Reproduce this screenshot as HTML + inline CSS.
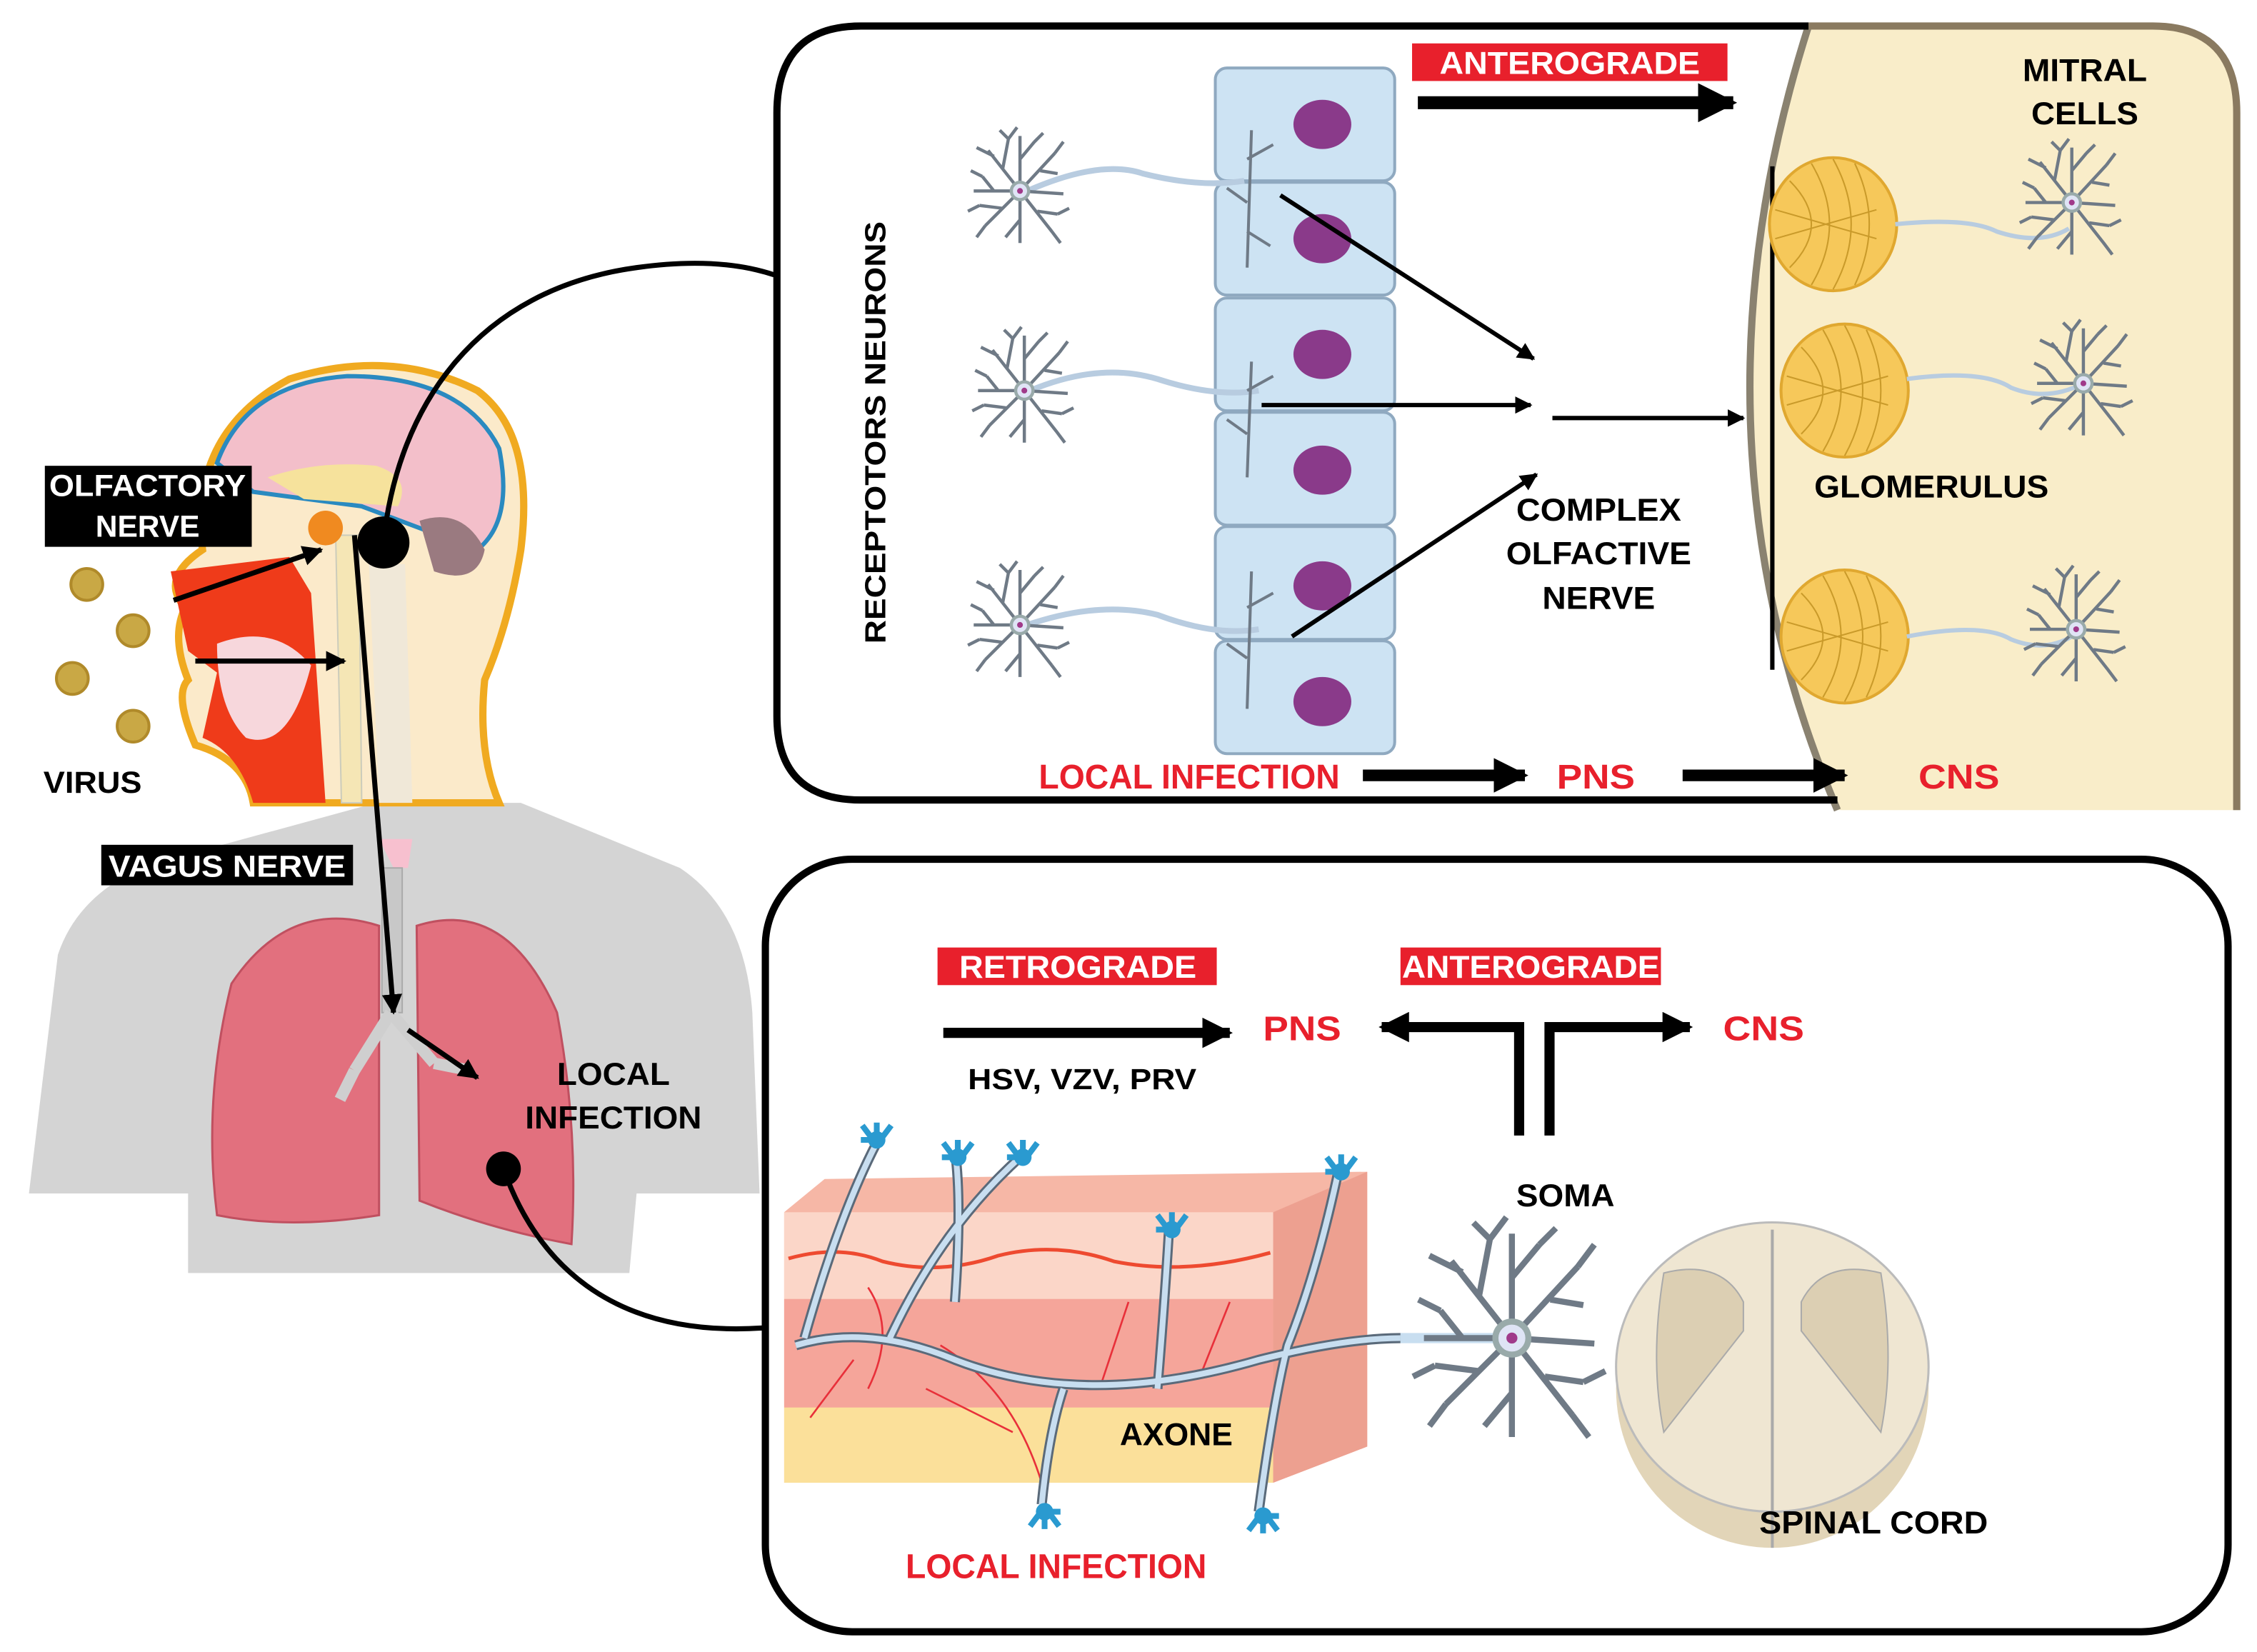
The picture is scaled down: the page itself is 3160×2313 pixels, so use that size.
<!DOCTYPE html>
<html><head><meta charset="utf-8"><style>
html,body{margin:0;padding:0;background:#fff;}
svg{display:block;}
text{font-family:"Liberation Sans Narrow","Liberation Sans",sans-serif;font-weight:bold;}
</style></head><body>
<svg width="3160" height="2313" viewBox="0 0 1560 1142" preserveAspectRatio="none" xmlns="http://www.w3.org/2000/svg">
<defs>
<marker id="ah" viewBox="0 0 10 10" refX="9" refY="5" markerWidth="4" markerHeight="4" orient="auto"><path d="M0,0L10,5L0,10z" fill="#000"/></marker>
<marker id="ah2" viewBox="0 0 10 10" refX="9" refY="5" markerWidth="3" markerHeight="3" orient="auto"><path d="M0,0L10,5L0,10z" fill="#000"/></marker>
<g id="neu" stroke="#6f7a86" stroke-width="2.2" fill="none">
<path d="M0,0L-22,-28M-12,-15L-8,-36M-18,-24L-30,-30M0,0L0,-38M0,-22L10,-34M0,0L24,-26M14,-14L26,-12M0,0L30,2M0,0L22,28M12,14L26,16M0,0L0,36M0,20L-10,32M0,0L-24,24M-12,12L-28,10M0,0L-32,0M-18,0L-26,-10M-8,-36L-14,-42M-8,-36L-2,-44M24,-26L30,-34M22,28L28,36M-24,24L-30,32M-26,-10L-34,-14M26,16L34,12M-28,10L-36,14M10,-34L16,-40"/>
<circle r="6" fill="#dfe4f5" stroke="#9aa"/><circle r="2" fill="#a03a8a" stroke="none"/>
</g>
<g id="glom"><ellipse rx="44" ry="46" fill="#f6c85a" stroke="#e0a830" stroke-width="2"/>
<path d="M-30,-30Q0,0 -30,30M-15,-42Q10,0 -15,42M0,-45Q25,0 0,45M15,-42Q35,0 15,42M-40,-10L30,10M-40,10L30,-10" stroke="#c99a2a" stroke-width="1" fill="none"/></g>
<g id="hand" fill="#2a9ad0"><circle r="6"/><path d="M-10,-10L-4,-2M0,-12L0,-2M10,-10L4,-2M-11,0L-3,0" stroke="#2a9ad0" stroke-width="4"/></g>
</defs>

<!-- body silhouette -->
<path d="M20,825 L40,660 Q60,600 150,585 L260,555 L360,555 L470,600 Q515,630 520,700 L525,825 L440,825 L435,880 L130,880 L130,825 Z" fill="#d4d4d4"/>
<!-- head -->
<path d="M140,380 Q130,300 200,262 Q270,240 330,270 Q370,300 360,380 Q352,430 335,470 Q330,520 345,555 L175,555 Q170,525 135,515 Q120,480 130,470 Q118,440 128,420 Q110,400 140,380Z" fill="#fbeaca" stroke="#f0aa20" stroke-width="5"/>
<path d="M150,320 Q170,265 240,260 Q320,260 345,310 Q355,360 330,380 L250,350 L175,340Z" fill="#f3bfca" stroke="#2a8ac0" stroke-width="3"/>
<path d="M185,330 Q220,318 260,322 Q285,330 275,350 L210,345Z" fill="#f6e29c"/>
<path d="M290,360 Q320,350 335,380 Q330,405 300,395Z" fill="#9a7a80"/>
<path d="M118,395 L200,385 L215,410 L225,555 L175,555 Q165,520 140,510 L150,465 L130,450Z" fill="#ef3b1a"/>
<path d="M150,445 Q190,430 215,460 Q200,520 170,510 Q150,490 150,445Z" fill="#f7d7dc"/>
<path d="M232,370 L248,370 L250,555 L236,555Z" fill="#f5e6b5" stroke="#ccb" stroke-width="1"/>
<path d="M255,390 L280,390 L285,555 L262,555Z" fill="#f0e8d8"/>
<circle cx="225" cy="365" r="12" fill="#f08a20"/>
<!-- viruses -->
<g fill="#c9a845" stroke="#b08a2a" stroke-width="2"><circle cx="60" cy="404" r="11"/><circle cx="92" cy="436" r="11"/><circle cx="50" cy="469" r="11"/><circle cx="92" cy="502" r="11"/></g>
<!-- trachea & lungs -->
<path d="M262,580 L285,580 L282,600 L272,600Z" fill="#f7c0cf"/>
<rect x="264" y="600" width="14" height="100" fill="#c8c8c8" stroke="#aaa"/>
<path d="M160,680 Q200,620 262,640 L262,840 Q200,850 150,840 Q140,760 160,680Z" fill="#e2707e" stroke="#c05060" stroke-width="1.5"/>
<path d="M288,640 Q350,620 385,700 Q400,780 395,860 Q340,850 290,830Z" fill="#e2707e" stroke="#c05060" stroke-width="1.5"/>
<path d="M270,700 L245,740 M270,700 L300,735 M245,740 L235,760 M300,735 L325,740" stroke="#cfcfcf" stroke-width="8" fill="none"/>

<!-- connectors -->
<path d="M265,375 C275,280 330,200 440,185 C490,178 520,185 535,190" stroke="#000" stroke-width="3.5" fill="none"/>
<path d="M348,808 C370,870 420,925 527,918" stroke="#000" stroke-width="3.5" fill="none"/>
<circle cx="265" cy="375" r="18" fill="#000"/>
<circle cx="348" cy="808" r="12" fill="#000"/>

<!-- arrows left -->
<g stroke="#000" stroke-width="3.5" fill="none" marker-end="url(#ah)">
<line x1="120" y1="415" x2="222" y2="380"/>
<line x1="135" y1="457" x2="238" y2="457"/>
<line x1="245" y1="370" x2="272" y2="700"/>
<line x1="282" y1="712" x2="330" y2="745"/>
</g>
<!-- labels left -->
<rect x="31" y="322" width="143" height="56" fill="#000"/>
<text x="102" y="343" font-size="21" fill="#fff" text-anchor="middle" font-family="Liberation Sans" textLength="136" lengthAdjust="spacingAndGlyphs">OLFACTORY</text>
<text x="102" y="371" font-size="21" fill="#fff" text-anchor="middle" font-family="Liberation Sans">NERVE</text>
<text x="30" y="548" font-size="21" fill="#000" textLength="68" lengthAdjust="spacingAndGlyphs">VIRUS</text>
<rect x="70" y="584" width="174" height="28" fill="#000"/>
<text x="157" y="606" font-size="21" fill="#fff" text-anchor="middle" textLength="164" lengthAdjust="spacingAndGlyphs">VAGUS NERVE</text>
<text x="424" y="750" font-size="22" fill="#000" text-anchor="middle" textLength="78" lengthAdjust="spacingAndGlyphs">LOCAL</text>
<text x="424" y="780" font-size="22" fill="#000" text-anchor="middle" textLength="122" lengthAdjust="spacingAndGlyphs">INFECTION</text>

<!-- TOP BOX -->
<path d="M1250,18 L1488,18 Q1548,18 1548,78 L1548,560 L1270,560 Q1160,300 1250,18Z" fill="#f9edc9"/>
<path d="M1250,18 Q1160,300 1270,560" stroke="#8a8270" stroke-width="5" fill="none"/>
<path d="M1250,18 L1488,18 Q1546,18 1546,78 L1546,560" stroke="#8a7a60" stroke-width="5" fill="none"/>
<path d="M1250,18 L595,18 Q537,18 537,78 L537,495 Q537,553 595,553 L1270,553" stroke="#000" stroke-width="5" fill="none"/>
<!-- cells -->
<g fill="#cde3f3" stroke="#8fa9c0" stroke-width="2">
<rect x="840" y="47" width="124" height="78" rx="8"/><rect x="840" y="126" width="124" height="78" rx="8"/>
<rect x="840" y="206" width="124" height="78" rx="8"/><rect x="840" y="285" width="124" height="78" rx="8"/>
<rect x="840" y="364" width="124" height="78" rx="8"/><rect x="840" y="443" width="124" height="78" rx="8"/>
</g>
<g fill="#8a3a8a"><ellipse cx="914" cy="86" rx="20" ry="17"/><ellipse cx="914" cy="165" rx="20" ry="17"/><ellipse cx="914" cy="245" rx="20" ry="17"/><ellipse cx="914" cy="325" rx="20" ry="17"/><ellipse cx="914" cy="405" rx="20" ry="17"/><ellipse cx="914" cy="485" rx="20" ry="17"/></g>
<g stroke="#b8cce0" stroke-width="4" fill="none">
<path d="M710,132 Q760,110 790,120 Q830,130 860,125"/><path d="M712,270 Q760,250 800,262 Q840,275 870,270"/><path d="M710,432 Q760,415 800,425 Q840,440 870,435"/></g>
<g stroke="#6f7a86" stroke-width="2" fill="none"><path d="M865,90L862,185M865,250L862,330M865,395L862,490M862,110L880,100M862,140L848,130M862,160L878,170M862,270L880,260M862,300L848,290M862,420L880,410M862,455L848,445"/></g>
<use href="#neu" x="705" y="132"/><use href="#neu" x="708" y="270"/><use href="#neu" x="705" y="432"/>
<g stroke="#000" stroke-width="3" fill="none" marker-end="url(#ah)">
<line x1="885" y1="135" x2="1060" y2="248"/><line x1="872" y1="280" x2="1058" y2="280"/>
<line x1="893" y1="440" x2="1062" y2="328"/><line x1="1073" y1="289" x2="1205" y2="289"/>
</g>
<line x1="1225" y1="115" x2="1225" y2="463" stroke="#000" stroke-width="3"/>
<use href="#glom" x="1267" y="155"/><use href="#glom" x="1275" y="270"/><use href="#glom" x="1275" y="440"/>
<g stroke="#b8cce0" stroke-width="3" fill="none"><path d="M1310,155Q1360,150 1380,160Q1410,170 1430,158"/><path d="M1318,262Q1370,255 1390,268Q1415,278 1440,265"/><path d="M1318,440Q1370,430 1390,442Q1415,452 1435,438"/></g>
<use href="#neu" x="1432" y="140"/><use href="#neu" x="1440" y="265"/><use href="#neu" x="1435" y="435"/>
<rect x="976" y="30" width="218" height="26" fill="#e8202c"/>
<text x="1085" y="51" font-size="22" fill="#fff" text-anchor="middle" textLength="180" lengthAdjust="spacingAndGlyphs">ANTEROGRADE</text>
<line x1="980" y1="71" x2="1198" y2="71" stroke="#000" stroke-width="9" marker-end="url(#ah2)"/>
<text x="1441" y="56" font-size="22" fill="#000" text-anchor="middle" textLength="86" lengthAdjust="spacingAndGlyphs">MITRAL</text>
<text x="1441" y="86" font-size="22" fill="#000" text-anchor="middle" textLength="74" lengthAdjust="spacingAndGlyphs">CELLS</text>
<text x="1335" y="344" font-size="22" fill="#000" text-anchor="middle" textLength="162" lengthAdjust="spacingAndGlyphs">GLOMERULUS</text>
<text x="1105" y="360" font-size="22" fill="#000" text-anchor="middle" textLength="114" lengthAdjust="spacingAndGlyphs">COMPLEX</text>
<text x="1105" y="390" font-size="22" fill="#000" text-anchor="middle" textLength="128" lengthAdjust="spacingAndGlyphs">OLFACTIVE</text>
<text x="1105" y="421" font-size="22" fill="#000" text-anchor="middle" textLength="78" lengthAdjust="spacingAndGlyphs">NERVE</text>
<text transform="translate(612,445) rotate(-90)" font-size="20" fill="#000" font-family="Liberation Sans" textLength="292" lengthAdjust="spacingAndGlyphs">RECEPTOTORS NEURONS</text>
<text x="718" y="545" font-size="24" fill="#e8202c" textLength="208" lengthAdjust="spacingAndGlyphs">LOCAL INFECTION</text>
<line x1="942" y1="536" x2="1054" y2="536" stroke="#000" stroke-width="8" marker-end="url(#ah2)"/>
<text x="1103" y="545" font-size="24" fill="#e8202c" text-anchor="middle" textLength="54" lengthAdjust="spacingAndGlyphs">PNS</text>
<line x1="1163" y1="536" x2="1275" y2="536" stroke="#000" stroke-width="8" marker-end="url(#ah2)"/>
<text x="1354" y="545" font-size="24" fill="#e8202c" text-anchor="middle" textLength="56" lengthAdjust="spacingAndGlyphs">CNS</text>

<!-- BOTTOM BOX -->
<rect x="529" y="594" width="1011" height="534" rx="60" fill="#fff" stroke="#000" stroke-width="5"/>
<rect x="648" y="655" width="193" height="26" fill="#e8202c"/>
<text x="745" y="676" font-size="22" fill="#fff" text-anchor="middle" textLength="164" lengthAdjust="spacingAndGlyphs">RETROGRADE</text>
<rect x="968" y="655" width="180" height="26" fill="#e8202c"/>
<text x="1058" y="676" font-size="22" fill="#fff" text-anchor="middle" textLength="178" lengthAdjust="spacingAndGlyphs">ANTEROGRADE</text>
<line x1="652" y1="714" x2="850" y2="714" stroke="#000" stroke-width="7" marker-end="url(#ah2)"/>
<text x="900" y="719" font-size="24" fill="#e8202c" text-anchor="middle" textLength="54" lengthAdjust="spacingAndGlyphs">PNS</text>
<text x="1219" y="719" font-size="24" fill="#e8202c" text-anchor="middle" textLength="56" lengthAdjust="spacingAndGlyphs">CNS</text>
<text x="748" y="753" font-size="20" fill="#000" text-anchor="middle" textLength="158" lengthAdjust="spacingAndGlyphs">HSV, VZV, PRV</text>
<path d="M1050,785 L1050,710 L955,710" stroke="#000" stroke-width="7" fill="none" marker-end="url(#ah2)"/>
<path d="M1071,785 L1071,710 L1168,710" stroke="#000" stroke-width="7" fill="none" marker-end="url(#ah2)"/>
<!-- skin block -->
<path d="M542,838 L570,815 L945,810 L945,1000 L880,1025 L542,1025Z" fill="#f6b7a6"/>
<rect x="542" y="838" width="338" height="60" fill="#fbd6c8"/>
<rect x="542" y="898" width="338" height="75" fill="#f5a59a"/>
<rect x="542" y="973" width="338" height="52" fill="#fbe09a"/>
<path d="M880,838 L945,810 L945,1000 L880,1025Z" fill="#eda090"/>
<path d="M545,870 Q580,860 610,872 Q650,882 690,868 Q730,858 770,872 Q820,882 878,866" stroke="#ee4a30" stroke-width="2.5" fill="none"/>
<g stroke="#e8303a" stroke-width="1.3" fill="none"><path d="M720,1025 Q700,960 650,930M700,990 L640,960M600,960 Q620,920 600,890M760,960 L780,900M830,950 L850,900M560,980 L590,940"/></g>
<!-- nerves -->
<g stroke="#5a6a7a" stroke-width="7" fill="none"><path d="M550,930 Q600,915 660,940 Q750,975 870,940 Q930,925 968,925"/>
<path d="M556,925 Q580,840 606,790M615,925 Q650,850 705,800M660,900 Q665,830 660,795M800,960 Q805,900 808,850M720,1040 Q725,990 735,960M870,1045 Q880,970 890,930 Q910,880 925,810"/></g>
<g stroke="#c8def0" stroke-width="4" fill="none"><path d="M550,930 Q600,915 660,940 Q750,975 870,940 Q930,925 968,925"/>
<path d="M556,925 Q580,840 606,790M615,925 Q650,850 705,800M660,900 Q665,830 660,795M800,960 Q805,900 808,850M720,1040 Q725,990 735,960M870,1045 Q880,970 890,930 Q910,880 925,810"/></g>
<use href="#hand" x="606" y="788"/><use href="#hand" x="662" y="800"/><use href="#hand" x="707" y="800"/><use href="#hand" x="810" y="850"/><use href="#hand" x="927" y="810"/>
<use href="#hand" x="722" y="1045" transform="rotate(180 722 1045)"/><use href="#hand" x="873" y="1048" transform="rotate(180 873 1048)"/>
<!-- soma neuron -->
<line x1="968" y1="925" x2="1045" y2="925" stroke="#c8def0" stroke-width="7"/>
<g transform="translate(1045,925) scale(1.9)"><use href="#neu"/></g>
<!-- spinal cord -->
<ellipse cx="1225" cy="960" rx="108" ry="110" fill="#e2d5b8"/>
<ellipse cx="1225" cy="945" rx="108" ry="100" fill="#efe6d2" stroke="#bbb" stroke-width="1.5"/>
<path d="M1150,880 Q1190,870 1205,900 L1205,920 L1150,990 Q1140,940 1150,880Z M1300,880 Q1260,870 1245,900 L1245,920 L1300,990 Q1310,940 1300,880Z" fill="#dccfb3" stroke="#aaa"/>
<line x1="1225" y1="850" x2="1225" y2="1070" stroke="#aaa" stroke-width="2"/>
<text x="1082" y="834" font-size="22" fill="#000" text-anchor="middle" textLength="68" lengthAdjust="spacingAndGlyphs">SOMA</text>
<text x="813" y="999" font-size="22" fill="#000" text-anchor="middle" textLength="78" lengthAdjust="spacingAndGlyphs">AXONE</text>
<text x="1295" y="1060" font-size="22" fill="#000" text-anchor="middle" textLength="158" lengthAdjust="spacingAndGlyphs">SPINAL CORD</text>
<text x="730" y="1091" font-size="24" fill="#e8202c" text-anchor="middle" textLength="208" lengthAdjust="spacingAndGlyphs">LOCAL INFECTION</text>
</svg>
</body></html>
